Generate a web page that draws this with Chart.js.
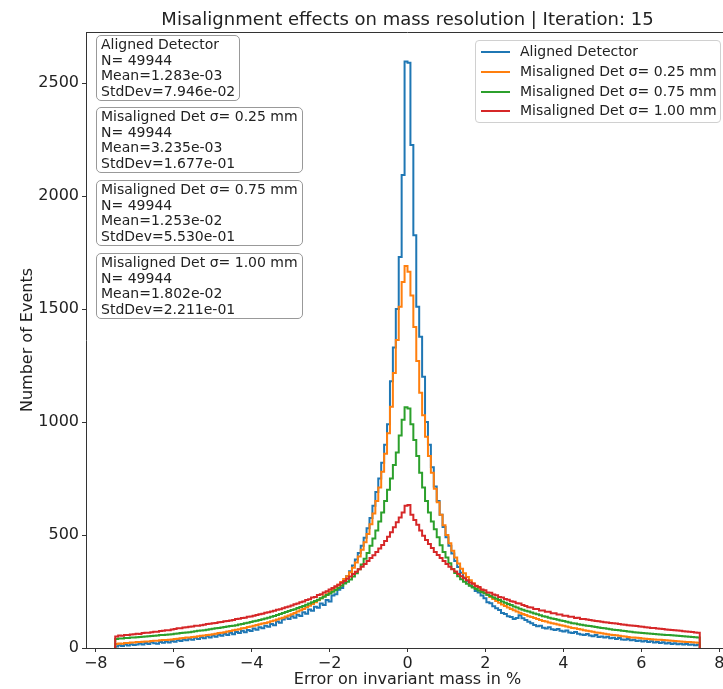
<!DOCTYPE html>
<html>
<head>
<meta charset="utf-8">
<script src="https://cdn.jsdelivr.net/npm/chart.js@4.4.1/dist/chart.umd.min.js"></script>
<style>
  body { margin: 0; overflow: hidden; background: #fff; font-family: "DejaVu Sans", sans-serif; }
  #wrap { position: relative; width: 740px; height: 689px; }
  #title { position: absolute; left: 0; width: 815px; top: 8px; text-align: center; font-size: 18px; line-height: 22px;
           color: #222; white-space: nowrap; }
  .stat { position: absolute; left: 96px; box-sizing: border-box; background: #fff; border: 1px solid #999;
          border-radius: 5px; padding: 1px 4px; font-size: 14px; line-height: 15.5px; color: #222; white-space: nowrap; }
  #legend { position: absolute; left: 475px; top: 40px; width: 246px; height: 83px; box-sizing: border-box;
            border: 1px solid #d0d0d0; border-radius: 4px; background: rgba(255,255,255,0.8); padding-top: 1px; }
  .row { position: relative; height: 19.8px; line-height: 19.8px; font-size: 14px; color: #222; white-space: nowrap; }
  .row i { position: absolute; left: 5px; top: 9px; width: 29px; height: 2px; }
  .row span { position: absolute; left: 44px; }
</style>
</head>
<body>
<div id="wrap">
  <canvas id="chart" width="740" height="689"></canvas>
  <div id="title">Misalignment effects on mass resolution | Iteration: 15</div>
  <div id="stats"></div>
  <div id="legend"></div>
</div>
<script>
// histogram binning
const binRange = [-7.5, 7.5];
const nBins = 200;

const seriesLabels = ['Aligned Detector', 'Misaligned Det σ= 0.25 mm', 'Misaligned Det σ= 0.75 mm', 'Misaligned Det σ= 1.00 mm'];
const seriesColors = ['#1f77b4', '#ff7f0e', '#2ca02c', '#d62728'];
const statsN = [49944, 49944, 49944, 49944];
const statsMean = ['1.283e-03', '3.235e-03', '1.253e-02', '1.802e-02'];
const statsStd = ['7.946e-02', '1.677e-01', '5.530e-01', '2.211e-01'];

const xTickValues = [-8, -6, -4, -2, 0, 2, 4, 6, 8];
const yTickValues = [0, 500, 1000, 1500, 2000, 2500];

// counts per bin (left to right)
const countsAligned = [
  7, 12, 9, 15, 11, 17, 13, 16, 20, 15, 22, 18, 25, 21, 19, 27, 23, 29, 24, 31,
  28, 35, 31, 38, 34, 41, 37, 45, 40, 48, 43, 52, 46, 55, 50, 59, 54, 63, 58, 67,
  61, 71, 66, 76, 70, 80, 75, 86, 81, 92, 87, 98, 94, 106, 101, 117, 112, 126, 135, 128,
  140, 134, 147, 142, 158, 152, 170, 165, 183, 178, 197, 190, 212, 206, 232, 238, 258, 266, 289,
  318, 340, 365, 392, 420, 452, 488, 530, 575, 630, 690, 750, 820, 900, 990, 1180, 1330, 1500, 1730, 2093, 2596,
  2590, 2226, 1827, 1510, 1377, 1200, 1000, 900, 800, 715, 650, 590, 535, 490, 452, 418, 385, 358, 333, 312, 295,
  278, 270, 252, 246, 232, 220, 203, 198, 185, 176, 168, 155, 150, 140, 137, 128, 133, 145, 132,
  124, 116, 110, 102, 96, 99, 90, 86, 92, 83, 80, 84, 76, 73, 77, 69, 66, 71, 63, 60,
  58, 62, 55, 52, 57, 49, 51, 46, 50, 43, 45, 40, 44, 38, 36, 40, 34, 37, 31, 33,
  29, 32, 27, 30, 24, 27, 22, 25, 20, 23, 18, 21, 17, 19, 15, 18, 14, 16, 12, 14
];
const countsMis025 = [
  18, 20, 19, 22, 22, 24, 24, 26, 26, 28, 29, 29, 31, 32, 32, 34, 35, 35, 37, 38,
  40, 41, 43, 44, 46, 47, 49, 50, 52, 54, 55, 57, 59, 61, 63, 66, 68, 70, 73, 75,
  78, 81, 83, 87, 89, 93, 95, 99, 102, 105, 108, 111, 114, 118, 122, 126, 130, 134, 139, 144,
  149, 155, 161, 167, 173, 180, 187, 195, 203, 211, 220, 229, 238, 248, 258, 269, 280, 292, 305,
  318, 335, 355, 378, 405, 435, 468, 505, 548, 595, 650, 710, 780, 860, 950, 1068, 1217, 1363, 1510, 1620, 1690,
  1665, 1560, 1420, 1270, 1130, 1030, 935, 850, 775, 705, 645, 590, 543, 500, 463, 430, 400, 374, 351, 331, 314,
  300, 287, 276, 266, 255, 245, 235, 226, 217, 208, 200, 193, 186, 179, 173, 167, 161, 156, 151,
  146, 141, 137, 133, 128, 124, 120, 117, 113, 110, 107, 104, 101, 98, 95, 92, 89, 87, 84, 82,
  79, 76, 74, 72, 69, 67, 65, 63, 61, 59, 57, 56, 54, 52, 51, 49, 47, 46, 45, 44,
  42, 41, 40, 39, 38, 37, 36, 35, 34, 33, 32, 31, 30, 29, 28, 27, 26, 25, 24, 23
];
const countsMis075 = [
  40, 42, 42, 44, 44, 46, 47, 48, 49, 50, 51, 52, 53, 54, 55, 57, 58, 59, 60, 61,
  63, 64, 66, 67, 69, 70, 72, 74, 76, 77, 79, 81, 83, 85, 87, 89, 91, 93, 95, 97,
  99, 101, 104, 106, 109, 112, 115, 118, 121, 124, 127, 130, 134, 138, 142, 146, 150, 155, 159, 164,
  168, 172, 177, 181, 186, 191, 197, 202, 208, 214, 220, 227, 234, 241, 249, 257, 266, 275, 285,
  293, 303, 316, 331, 348, 370, 395, 420, 452, 485, 520, 560, 600, 650, 700, 750, 810, 865, 940, 1010, 1065,
  1060, 990, 920, 850, 775, 710, 650, 600, 560, 525, 490, 455, 425, 400, 375, 350, 332, 317, 304, 293, 284,
  276, 268, 261, 255, 248, 242, 236, 230, 224, 218, 212, 206, 200, 195, 190, 184, 179, 174, 169,
  165, 161, 157, 153, 149, 145, 141, 138, 134, 131, 128, 125, 122, 119, 116, 113, 110, 108, 105, 103,
  101, 99, 97, 95, 93, 91, 89, 87, 85, 83, 81, 80, 78, 76, 75, 73, 72, 70, 69, 68,
  66, 65, 64, 63, 62, 61, 60, 59, 58, 57, 56, 55, 54, 53, 52, 51, 50, 49, 48, 47
];
const countsMis100 = [
  51, 55, 54, 58, 57, 60, 61, 63, 62, 66, 67, 68, 70, 72, 72, 75, 76, 78, 79, 82,
  84, 87, 87, 91, 92, 94, 95, 98, 99, 101, 103, 106, 107, 110, 111, 114, 115, 118, 119, 122,
  124, 128, 129, 133, 134, 138, 139, 143, 146, 149, 152, 156, 158, 162, 165, 169, 172, 176, 180, 184,
  188, 194, 197, 203, 206, 212, 216, 223, 226, 234, 238, 246, 251, 259, 265, 273, 280, 289, 297,
  307, 316, 327, 337, 348, 360, 372, 385, 398, 411, 425, 440, 456, 474, 492, 512, 534, 556, 578, 600, 630,
  633, 590, 566, 545, 520, 497, 478, 460, 442, 425, 412, 398, 385, 372, 360, 349, 338, 328, 318, 309, 300,
  290, 284, 274, 270, 259, 256, 246, 244, 237, 233, 226, 224, 217, 214, 207, 205, 198, 197, 190,
  186, 180, 179, 173, 173, 166, 166, 160, 160, 154, 154, 148, 148, 143, 143, 138, 138, 133, 134, 128,
  128, 126, 124, 122, 120, 118, 116, 114, 113, 111, 109, 108, 106, 104, 103, 101, 100, 98, 97, 95,
  94, 92, 91, 89, 88, 86, 85, 84, 82, 81, 80, 78, 77, 76, 74, 73, 72, 71, 69, 68
];

// step outline like matplotlib histtype='step'
function stepPoints(counts) {
  const w = (binRange[1] - binRange[0]) / nBins;
  const pts = [{ x: binRange[0], y: 0 }];
  counts.forEach((c, i) => pts.push({ x: binRange[0] + i * w, y: c }));
  pts.push({ x: binRange[1], y: counts[counts.length - 1] });
  pts.push({ x: binRange[1], y: 0 });
  return pts;
}

const allCounts = [countsAligned, countsMis025, countsMis075, countsMis100];
const datasets = allCounts.map((c, i) => ({
  label: seriesLabels[i],
  data: stepPoints(c),
  borderColor: seriesColors[i],
  borderWidth: 2,
  pointRadius: 0,
  stepped: true,
  fill: false,
  order: 3 - i
}));

const txt = '#222';
const frame = {
  id: 'frame',
  afterDraw(chart) {
    const { ctx, chartArea: a } = chart;
    ctx.save();
    ctx.strokeStyle = '#333';
    ctx.lineWidth = 1;
    ctx.beginPath();
    ctx.moveTo(a.left, a.top + 0.5);
    ctx.lineTo(a.right, a.top + 0.5);
    ctx.lineTo(a.right, a.bottom);
    ctx.stroke();
    ctx.restore();
  }
};

const fmt = v => (v < 0 ? '\u2212' + Math.abs(v) : String(v));

new Chart(document.getElementById('chart'), {
  type: 'line',
  data: { datasets },
  plugins: [frame],
  options: {
    responsive: false,
    animation: false,
    devicePixelRatio: 1,
    layout: { padding: { left: 0, top: 32, right: 11, bottom: 0 } },
    plugins: { legend: { display: false }, tooltip: { enabled: false }, title: { display: false } },
    scales: {
      x: {
        type: 'linear', min: -8.25, max: 8.25,
        afterBuildTicks: ax => { ax.ticks = xTickValues.map(v => ({ value: v })); },
        afterFit: ax => { ax.height = 41; },
        ticks: { color: txt, font: { family: 'DejaVu Sans', size: 16 }, padding: 2, maxRotation: 0, callback: fmt },
        grid: { display: true, drawOnChartArea: false, drawTicks: true, tickLength: 4, color: '#333' },
        border: { display: true, color: '#333' },
        title: { display: true, text: 'Error on invariant mass in %', color: txt,
                 font: { family: 'DejaVu Sans', size: 16 }, padding: { top: 0, bottom: 0 } }
      },
      y: {
        type: 'linear', min: 0, max: 2726,
        afterBuildTicks: ax => { ax.ticks = yTickValues.map(v => ({ value: v })); },
        afterFit: ax => { ax.width = 86; },
        ticks: { color: txt, font: { family: 'DejaVu Sans', size: 16 }, padding: 3, callback: fmt },
        grid: { display: true, drawOnChartArea: false, drawTicks: true, tickLength: 4, color: '#333' },
        border: { display: true, color: '#333' },
        title: { display: true, text: 'Number of Events', color: txt,
                 font: { family: 'DejaVu Sans', size: 16 }, padding: { top: 18, bottom: 0 } }
      }
    }
  }
});

// stat boxes
const statTops = [35, 107, 180, 253];
const statsDiv = document.getElementById('stats');
seriesLabels.forEach((lab, i) => {
  const d = document.createElement('div');
  d.className = 'stat';
  d.style.top = statTops[i] + 'px';
  d.innerHTML = lab + '<br>N= ' + statsN[i] + '<br>Mean=' + statsMean[i] + '<br>StdDev=' + statsStd[i];
  statsDiv.appendChild(d);
});

// legend
const leg = document.getElementById('legend');
seriesLabels.forEach((lab, i) => {
  leg.innerHTML += `<div class="row"><i style="background:${seriesColors[i]}"></i><span>${lab}</span></div>`;
});
</script>
</body>
</html>
